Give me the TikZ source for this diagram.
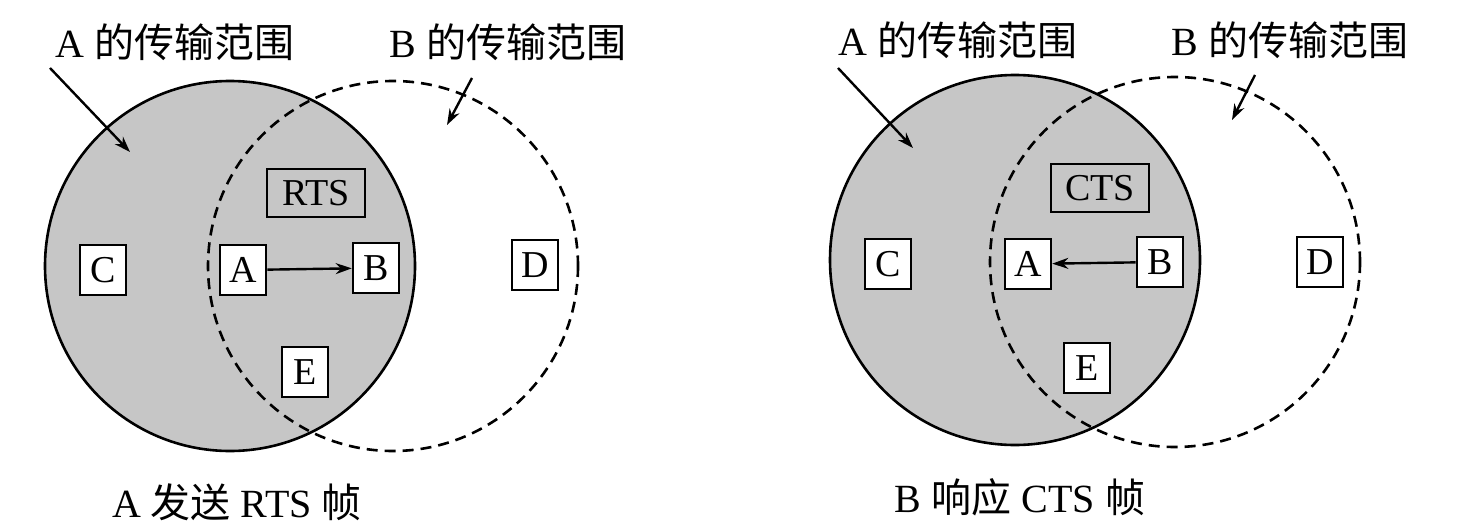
\documentclass[tikz,border=0pt]{standalone}
\usepackage{fontspec}
\setmainfont{Liberation Serif}
\newfontfamily\cjk{Noto Sans CJK SC}
\usetikzlibrary{arrows.meta}
\begin{document}
\begin{tikzpicture}[x=1pt, y=-1pt,
station/.style={draw, line width=2.6pt, fill=white, minimum width=46pt, minimum height=50pt, inner sep=0pt, font=\fontsize{38}{38}\selectfont},
frame/.style={draw, line width=2.6pt, fill=gray!45, minimum width=98pt, minimum height=48pt, inner sep=0pt, font=\fontsize{38}{38}\selectfont},
label/.style={font=\fontsize{40}{44}\selectfont},
pointer/.style={-{Stealth[length=16pt, width=11pt]}, line width=2.4pt}
]
\useasboundingbox (0,0) rectangle (1464,532);
% left panel
\fill[gray!45, draw=black, line width=2.6pt] (230,266) circle (185);
\draw[dashed, dash pattern=on 11pt off 7pt, line width=2.6pt] (393,266) circle (185);
\node[label] (ltA) at (175,42) {A {\cjk 的传输范围}};
\node[label] (ltB) at (508,42) {B {\cjk 的传输范围}};
\coordinate (lpA) at (130,152);
\coordinate (lpB) at (447,125);
\draw[pointer] (50,68) -- (lpA);
\draw[pointer] (472,78) -- (lpB);
\node[station] (lC) at (103,270) {C};
\node[station] (lA) at (243,270) {A};
\node[station] (lB) at (376,268) {B};
\node[station] (lD) at (535,265) {D};
\node[station] (lE) at (305,372) {E};
\node[frame] (rts) at (316,193) {RTS};
\draw[pointer] (lA) -- (lB);
\node[label] (lcap) at (237,502) {A {\cjk 发送} RTS {\cjk 帧}};
% right panel
\fill[gray!45, draw=black, line width=2.6pt] (1015,260) circle (185);
\draw[dashed, dash pattern=on 11pt off 7pt, line width=2.6pt] (1175,262) circle (185);
\node[label] (rtA) at (958,40) {A {\cjk 的传输范围}};
\node[label] (rtB) at (1290,40) {B {\cjk 的传输范围}};
\coordinate (rpA) at (913,148);
\coordinate (rpB) at (1232,120);
\draw[pointer] (838,68) -- (rpA);
\draw[pointer] (1255,75) -- (rpB);
\node[station] (rC) at (888,264) {C};
\node[station] (rA) at (1028,264) {A};
\node[station] (rB) at (1160,262) {B};
\node[station] (rD) at (1320,262) {D};
\node[station] (rE) at (1087,368) {E};
\node[frame] (cts) at (1100,188) {CTS};
\draw[pointer] (rB) -- (rA);
\node[label] (rcap) at (1020,497) {B {\cjk 响应} CTS {\cjk 帧}};
\end{tikzpicture}
\end{document}
